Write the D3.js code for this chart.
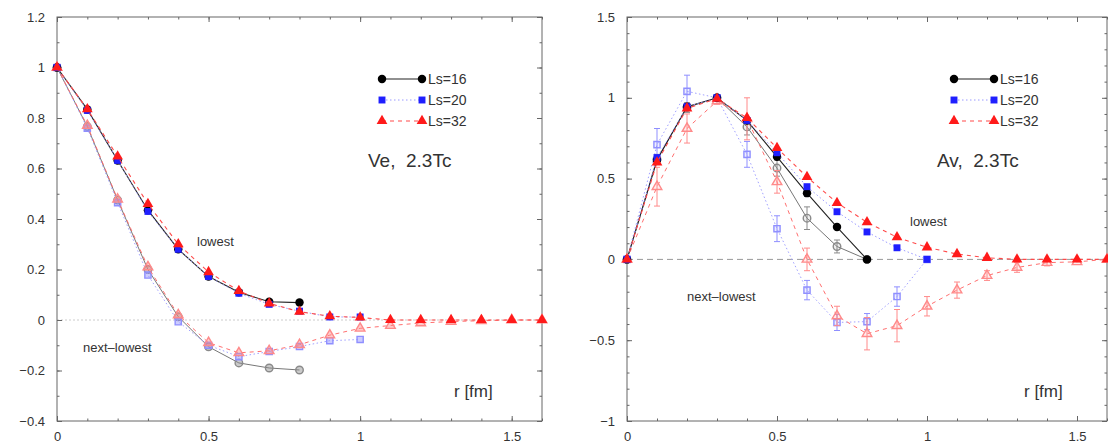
<!DOCTYPE html>
<html>
<head>
<meta charset="utf-8">
<script src="https://cdn.jsdelivr.net/npm/d3@7"></script>
<style>
  body { margin: 0; background: #fff; }
  svg { font-family: "Liberation Sans", Arial, sans-serif; }
  text { white-space: pre; }
</style>
</head>
<body>
<svg id="chart" width="1108" height="444"></svg>
<script>
// r values (fm), shared by all series; each series uses the first n entries
var rVals = [0, 0.1, 0.2, 0.3, 0.4, 0.5, 0.6, 0.7, 0.8, 0.9, 1.0, 1.1, 1.2, 1.3, 1.4, 1.5, 1.6];

// left panel: Ve, 2.3Tc
var veLow16  = [1, 0.834, 0.632, 0.435, 0.28, 0.172, 0.11, 0.072, 0.069];
var veLow20  = [1, 0.83, 0.632, 0.43, 0.28, 0.172, 0.106, 0.062, 0.035, 0.012, 0.012];
var veLow32  = [1, 0.835, 0.648, 0.46, 0.3, 0.19, 0.115, 0.066, 0.033, 0.015, 0.01, 0, 0, 0, 0, 0, 0];
var veNext16 = [1, 0.766, 0.475, 0.2, 0.013, -0.106, -0.17, -0.19, -0.198];
var veNext20 = [1, 0.76, 0.465, 0.178, -0.007, -0.1, -0.145, -0.125, -0.105, -0.082, -0.077];
var veNext32 = [1, 0.77, 0.478, 0.21, 0.02, -0.09, -0.13, -0.122, -0.098, -0.06, -0.033, -0.022, -0.012, -0.006, -0.003, 0, 0];

// right panel: Av, 2.3Tc
var avLow16  = [0, 0.615, 0.945, 1.0, 0.86, 0.635, 0.41, 0.2, 0.0];
var avLow20  = [0, 0.63, 0.945, 1.0, 0.86, 0.66, 0.45, 0.295, 0.17, 0.072, 0.0];
var avLow32  = [0, 0.6, 0.935, 0.995, 0.875, 0.69, 0.51, 0.35, 0.23, 0.137, 0.075, 0.033, 0.01, 0, 0, 0, 0];
var avNext16 = [0, 0.62, 0.94, 1.0, 0.82, 0.565, 0.255, 0.08, 0.0];
var avNext20 = [0, 0.71, 1.04, 1.0, 0.65, 0.19, -0.19, -0.39, -0.385, -0.23, 0.0];
var avNext32 = [0, 0.45, 0.81, 0.98, 0.87, 0.48, 0.0, -0.35, -0.46, -0.41, -0.29, -0.19, -0.1, -0.05, -0.02, -0.015, 0];
var avNextErr16 = [0, 0.03, 0.03, 0, 0.05, 0.05, 0.07, 0.04, 0];
var avNextErr20 = [0, 0.1, 0.1, 0.01, 0.08, 0.08, 0.06, 0.05, 0.05, 0.06, 0];
var avNextErr32 = [0, 0.12, 0.09, 0.02, 0.13, 0.07, 0.07, 0.06, 0.1, 0.1, 0.06, 0.05, 0.03, 0.03, 0.02, 0.01, 0.01];

// tick labels
var xTicks = [0, 0.5, 1, 1.5];
var veYTicks = [-0.4, -0.2, 0, 0.2, 0.4, 0.6, 0.8, 1, 1.2];
var avYTicks = [-1, -0.5, 0, 0.5, 1, 1.5];
var legendLabels = ["Ls=16", "Ls=20", "Ls=32"];

var svg = d3.select("#chart");
var fmt = d3.format("~g");

var styles = [
  {shape: d3.symbolCircle, size: 56, color: "#000", line: "#222", dash: null, lw: 1.1,
   light: "#8a8a8a", lightLine: "#777", lightDash: null},
  {shape: d3.symbolSquare, size: 48, color: "#1f1fff", line: "#9a9aff", dash: "1.5,2.5", lw: 1,
   light: "#8f8fff", lightLine: "#a0a0ff", lightDash: "1.5,2.5"},
  {shape: d3.symbolTriangle, size: 50, color: "#ff1a1a", line: "#ff4a4a", dash: "4,4", lw: 1.1,
   light: "#ff8a8a", lightLine: "#ff7070", lightDash: "4,4"}
];

function drawPanel(cfg) {
  var x = d3.scaleLinear().domain([0, 1.6]).range([cfg.left, cfg.right]);
  var y = d3.scaleLinear().domain(cfg.yDomain).range([421, 17]);
  var g = svg.append("g");

  // zero line
  g.append("line")
    .attr("x1", x(0)).attr("x2", x(1.6))
    .attr("y1", y(0)).attr("y2", y(0))
    .attr("stroke", cfg.zeroColor)
    .attr("stroke-dasharray", cfg.zeroDash);

  var xMinor = d3.range(0, 17).map(function(i) { return i / 10; });
  var yMinor = d3.range(Math.round(cfg.yDomain[0] * 10), Math.round(cfg.yDomain[1] * 10) + 1)
    .map(function(i) { return i / 10; });

  function axisGroup(axis, tx, ty) {
    var a = g.append("g")
      .attr("transform", "translate(" + tx + "," + ty + ")")
      .call(axis);
    a.select(".domain").remove();
    a.selectAll("line").attr("stroke", "#666");
    a.selectAll("text").attr("fill", "#333").style("font-size", "13px")
      .style("font-family", "Liberation Sans, Arial, sans-serif");
    return a;
  }

  // minor ticks on all four sides
  axisGroup(d3.axisBottom(x).tickValues(xMinor).tickSizeInner(-2.5).tickSizeOuter(0).tickFormat(""), 0, y.range()[0]);
  axisGroup(d3.axisTop(x).tickValues(xMinor).tickSizeInner(-2.5).tickSizeOuter(0).tickFormat(""), 0, y.range()[1]);
  axisGroup(d3.axisLeft(y).tickValues(yMinor).tickSizeInner(-2.5).tickSizeOuter(0).tickFormat(""), cfg.left, 0);
  axisGroup(d3.axisRight(y).tickValues(yMinor).tickSizeInner(-2.5).tickSizeOuter(0).tickFormat(""), cfg.right, 0);

  // major ticks
  axisGroup(d3.axisBottom(x).tickValues(xTicks).tickSizeInner(-5).tickSizeOuter(0).tickPadding(11).tickFormat(fmt), 0, y.range()[0]);
  axisGroup(d3.axisTop(x).tickValues(xTicks).tickSizeInner(-5).tickSizeOuter(0).tickFormat(""), 0, y.range()[1]);
  axisGroup(d3.axisLeft(y).tickValues(cfg.yTicks).tickSizeInner(-5).tickSizeOuter(0).tickPadding(12).tickFormat(fmt), cfg.left, 0);
  axisGroup(d3.axisRight(y).tickValues(cfg.yTicks).tickSizeInner(-5).tickSizeOuter(0).tickFormat(""), cfg.right, 0);

  // frame
  g.append("rect")
    .attr("x", cfg.left).attr("y", 17)
    .attr("width", cfg.right - cfg.left).attr("height", 404)
    .attr("fill", "none").attr("stroke", "#666").attr("stroke-width", 1);

  var line = d3.line()
    .x(function(d) { return x(d.r); })
    .y(function(d) { return y(d.v); });

  function pts(vals, errs) {
    return vals.map(function(v, i) { return {r: rVals[i], v: v, e: errs ? errs[i] : 0}; });
  }

  // next-lowest (light, open markers)
  cfg.next.forEach(function(vals, k) {
    var s = styles[k];
    var data = pts(vals, cfg.nextErr ? cfg.nextErr[k] : null);
    g.append("path").datum(data)
      .attr("d", line).attr("fill", "none")
      .attr("stroke", s.lightLine).attr("stroke-width", 1)
      .attr("stroke-dasharray", s.lightDash);
    var eb = g.append("g").attr("stroke", s.light).attr("stroke-width", 1);
    data.filter(function(d) { return d.e > 0.015; }).forEach(function(d) {
      eb.append("line").attr("x1", x(d.r)).attr("x2", x(d.r)).attr("y1", y(d.v - d.e)).attr("y2", y(d.v + d.e));
      eb.append("line").attr("x1", x(d.r) - 3).attr("x2", x(d.r) + 3).attr("y1", y(d.v - d.e)).attr("y2", y(d.v - d.e));
      eb.append("line").attr("x1", x(d.r) - 3).attr("x2", x(d.r) + 3).attr("y1", y(d.v + d.e)).attr("y2", y(d.v + d.e));
    });
    g.selectAll(null).data(data).enter().append("path")
      .attr("d", d3.symbol().type(s.shape).size(s.size * 0.8))
      .attr("transform", function(d) { return "translate(" + x(d.r) + "," + y(d.v) + ")"; })
      .attr("fill", s.light).attr("fill-opacity", cfg.openFill)
      .attr("stroke", s.light).attr("stroke-width", 1.4);
  });

  // lowest (solid markers)
  cfg.low.forEach(function(vals, k) {
    var s = styles[k];
    var data = pts(vals);
    g.append("path").datum(data)
      .attr("d", line).attr("fill", "none")
      .attr("stroke", s.line).attr("stroke-width", s.lw)
      .attr("stroke-dasharray", s.dash);
    g.selectAll(null).data(data).enter().append("path")
      .attr("d", d3.symbol().type(s.shape).size(s.size))
      .attr("transform", function(d) { return "translate(" + x(d.r) + "," + y(d.v) + ")"; })
      .attr("fill", s.color);
  });

  // legend
  legendLabels.forEach(function(lab, k) {
    var s = styles[k];
    var ly = 79 + k * 21;
    var lg = g.append("g");
    lg.append("line").attr("x1", cfg.legX).attr("x2", cfg.legX + 40)
      .attr("y1", ly).attr("y2", ly)
      .attr("stroke", s.line).attr("stroke-width", s.lw).attr("stroke-dasharray", s.dash);
    [cfg.legX, cfg.legX + 40].forEach(function(px) {
      lg.append("path").attr("d", d3.symbol().type(s.shape).size(s.size)())
        .attr("transform", "translate(" + px + "," + ly + ")").attr("fill", s.color);
    });
    lg.append("text").attr("x", cfg.legX + 46).attr("y", ly + 5)
      .attr("fill", "#333").style("font-size", "14px").text(lab);
  });

  g.append("text").attr("x", cfg.titleX).attr("y", 167)
    .attr("fill", "#333").style("font-size", "19px").text(cfg.title);
  g.append("text").attr("x", cfg.lowX).attr("y", cfg.lowY)
    .attr("fill", "#333").style("font-size", "13px").text("lowest");
  g.append("text").attr("x", cfg.nextX).attr("y", cfg.nextY)
    .attr("fill", "#333").style("font-size", "13px").text("next\u2013lowest");
  g.append("text").attr("x", cfg.rX).attr("y", 397)
    .attr("fill", "#333").style("font-size", "17px").text("r [fm]");
}

drawPanel({
  left: 57, right: 542, yDomain: [-0.4, 1.2], yTicks: veYTicks,
  zeroColor: "#ccc", zeroDash: "2,2",
  low: [veLow16, veLow20, veLow32], next: [veNext16, veNext20, veNext32], nextErr: null,
  openFill: 0.45,
  legX: 382, title: "Ve,  2.3Tc", titleX: 368,
  lowX: 197, lowY: 246, nextX: 83, nextY: 352, rX: 454
});

drawPanel({
  left: 627, right: 1107, yDomain: [-1, 1.5], yTicks: avYTicks,
  zeroColor: "#999", zeroDash: "6,4",
  low: [avLow16, avLow20, avLow32], next: [avNext16, avNext20, avNext32],
  nextErr: [avNextErr16, avNextErr20, avNextErr32],
  openFill: 0.15,
  legX: 954, title: "Av,  2.3Tc", titleX: 937,
  lowX: 910, lowY: 226, nextX: 687, nextY: 301, rX: 1024
});
</script>
</body>
</html>
